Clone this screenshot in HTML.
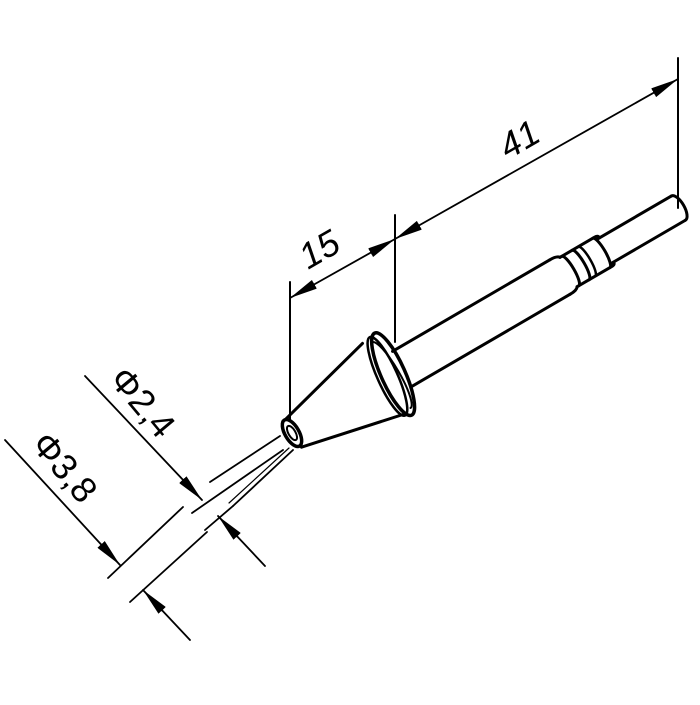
<!DOCTYPE html>
<html><head><style>html,body{margin:0;padding:0;background:#fff}</style></head>
<body>
<svg width="700" height="700" viewBox="0 0 700 700" xmlns="http://www.w3.org/2000/svg">
<defs>
<marker id="a" viewBox="0 0 28 10" refX="28" refY="5" markerWidth="28" markerHeight="10" markerUnits="userSpaceOnUse" orient="auto-start-reverse"><path d="M0,0 L28,5 L0,10 Z" fill="#000"/></marker>
</defs>
<g stroke="#000" fill="none" stroke-linecap="round">
<line x1="678" y1="58" x2="678" y2="208" stroke-width="2"/>
<line x1="395" y1="215" x2="395" y2="342" stroke-width="2"/>
<line x1="395" y1="239" x2="678" y2="79" stroke-width="1.8" marker-start="url(#a)" marker-end="url(#a)"/>
<line x1="290" y1="282" x2="290" y2="420" stroke-width="2"/>
<line x1="290" y1="298" x2="395" y2="239" stroke-width="1.8" marker-start="url(#a)" marker-end="url(#a)"/>

<g transform="translate(292 433) rotate(-30.2)" stroke-width="3">
  <line x1="1" y1="-15" x2="106" y2="-42"/>
  <line x1="1" y1="17" x2="106" y2="40"/>
  <ellipse cx="117" cy="0" rx="12" ry="45" stroke-width="3.5" transform="rotate(6 117 0)"/>
  <ellipse cx="111" cy="-1" rx="10" ry="43" stroke-width="2.5" transform="rotate(6 111 -1)"/>
  <path d="M115,-38 A8,38 0 0 1 115,38" stroke-width="2"/>
  <line x1="128" y1="-20" x2="310" y2="-20"/>
  <line x1="128" y1="20" x2="310" y2="20"/>
  <path d="M310,-20 Q318,-20 320,-17 M310,20 Q318,20 320,17"/>
  <path d="M320,-17 L360,-17 Q364,-17 364,-14 M320,17 L360,17 Q364,17 364,14"/>
  <path d="M322,-17 A4,17 0 0 1 322,17"/>
  <path d="M334,-17 A4,17 0 0 1 334,17"/>
  <path d="M341,-17 A4,17 0 0 1 341,17" stroke-width="2.5"/>
  <path d="M358,-17 A4,17 0 0 1 358,17"/>
  <line x1="362" y1="-14" x2="447" y2="-14"/>
  <line x1="362" y1="14" x2="447" y2="14"/>
  <path d="M447,-14 A6,14 0 0 1 447,14"/>
  <ellipse cx="0" cy="0" rx="7" ry="15" stroke-width="3.5"/>
  <ellipse cx="0" cy="0" rx="3.5" ry="8" stroke-width="2"/>
</g>

<line x1="210" y1="482" x2="280" y2="436" stroke-width="1.8"/>
<line x1="192" y1="513" x2="283" y2="450" stroke-width="1.8"/>
<line x1="233" y1="506" x2="293" y2="450" stroke-width="1.8"/>
<line x1="229" y1="503" x2="289" y2="448" stroke-width="1.2"/>
<line x1="108" y1="578" x2="183" y2="507" stroke-width="1.8"/>
<line x1="130" y1="602" x2="207" y2="532" stroke-width="1.8"/>
<line x1="205" y1="530" x2="233" y2="506" stroke-width="1.8"/>
<line x1="85" y1="376" x2="202" y2="500" stroke-width="1.8" marker-end="url(#a)"/>
<line x1="265" y1="566" x2="218" y2="516" stroke-width="1.8" marker-end="url(#a)"/>
<line x1="5" y1="440" x2="120" y2="565" stroke-width="1.8" marker-end="url(#a)"/>
<line x1="190" y1="640" x2="143" y2="590" stroke-width="1.8" marker-end="url(#a)"/>
</g>
<g font-family="Liberation Sans, sans-serif" font-size="36" fill="#000">
<text x="508" y="160" transform="rotate(-30 508 160)" font-style="italic">41</text>
<text x="308" y="270" transform="rotate(-30 308 270)" font-style="italic">15</text>
<text x="108" y="380" transform="rotate(50 108 380)">Φ2,4</text>
<text x="30" y="445" transform="rotate(50 30 445)">Φ3,8</text>
</g>
</svg>
</body></html>
